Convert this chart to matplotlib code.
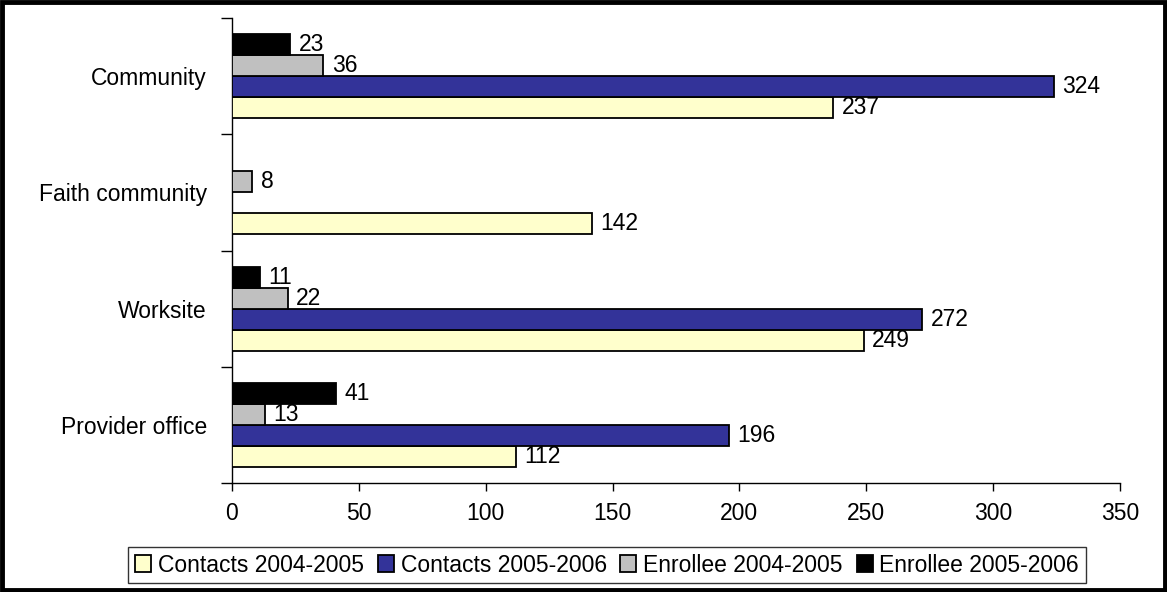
import matplotlib
matplotlib.use("Agg")
import matplotlib.pyplot as plt
from matplotlib.patches import Rectangle
import numpy as np

plt.rcParams['font.family'] = ['Liberation Sans', 'DejaVu Sans']

categories = ['Community', 'Faith community', 'Worksite', 'Provider office']
series_names = ['Contacts 2004-2005', 'Contacts 2005-2006', 'Enrollee 2004-2005', 'Enrollee 2005-2006']
contacts_0405 = [237, 142, 249, 112]
contacts_0506 = [324, None, 272, 196]
enrollee_0405 = [36, 8, 22, 13]
enrollee_0506 = [23, None, 11, 41]
colors = ['#FFFFCC', '#333399', '#C0C0C0', '#000000']
x_ticks = [0, 50, 100, 150, 200, 250, 300, 350]

fig = plt.figure(figsize=(11.67, 5.92), dpi=100)
ax = fig.add_axes([232/1167, 1-483/592, (1120-232)/1167, (483-18)/592])

n = len(categories)
ypos = np.arange(n)[::-1]  # Community on top
h = 0.181
offsets = [-1.5*h, -0.5*h, 0.5*h, 1.5*h]
all_series = [contacts_0405, contacts_0506, enrollee_0405, enrollee_0506]
FS = 16.5

handles = []
for s, (vals, col, off, name) in enumerate(zip(all_series, colors, offsets, series_names)):
    ys = [y + off for y, v in zip(ypos, vals) if v is not None]
    ws = [v for v in vals if v is not None]
    b = ax.barh(ys, ws, height=h, color=col, edgecolor='black', linewidth=1.3, label=name, zorder=3)
    handles.append(b)
    for yy, w in zip(ys, ws):
        ax.annotate(str(w), (w, yy), xytext=(6, 0), textcoords='offset points',
                    va='center', ha='left', fontsize=FS)

ax.set_xlim(0, 350)
ax.set_ylim(-0.5, n - 0.5)
ax.set_xticks(x_ticks)
ax.set_xticklabels([str(t) for t in x_ticks], fontsize=FS)
ax.set_yticks(ypos)
ax.set_yticklabels(categories, fontsize=FS)
ax.set_yticks(np.arange(n + 1) - 0.5, minor=True)
ax.tick_params(axis='y', which='major', length=0, pad=18)
ax.tick_params(axis='y', which='minor', length=8, width=1, color='black', direction='out')
ax.tick_params(axis='x', which='major', length=6, width=1, direction='out', pad=8)
for side in ['top', 'right']:
    ax.spines[side].set_visible(False)
for side in ['left', 'bottom']:
    ax.spines[side].set_linewidth(1)
    ax.spines[side].set_color('black')

leg = fig.legend(handles=handles, labels=series_names, loc='center', bbox_to_anchor=(607/1167, 1-565/592),
                 ncol=4, fontsize=FS, frameon=True, fancybox=False, edgecolor='black',
                 handlelength=0.7, handleheight=0.7, handletextpad=0.3, columnspacing=0.6,
                 borderpad=0.3, borderaxespad=0)
leg.get_frame().set_linewidth(1)

fig.patches.append(Rectangle((0.0015, 0.003), 0.997, 0.994, transform=fig.transFigure,
                             fill=False, edgecolor='black', linewidth=3.5))

fig.savefig('out.png', dpi=100)
